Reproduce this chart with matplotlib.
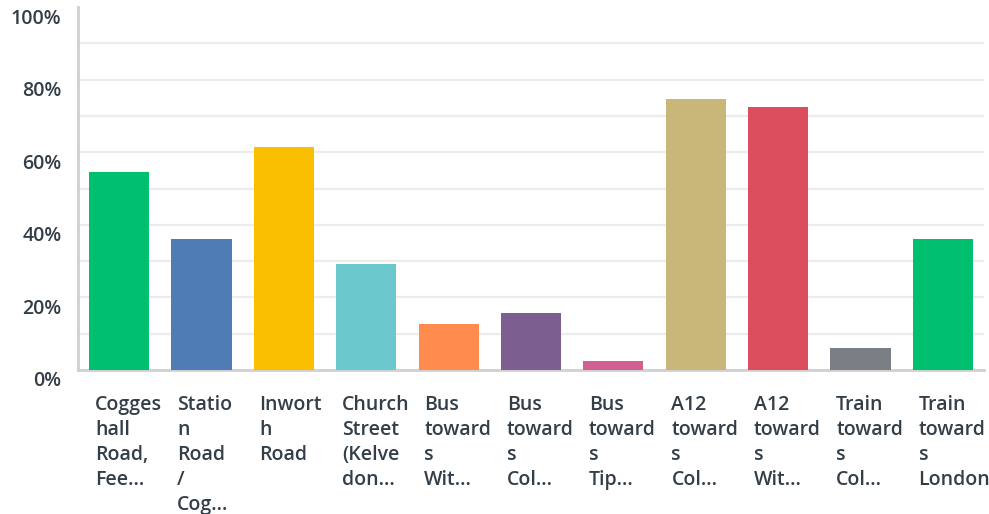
import numpy as np
import matplotlib.pyplot as plt
import matplotlib.transforms as mtransforms

# answer choices (as wrapped on the chart) and share of respondents (%)
labels = [
    "Cogges\nhall\nRoad,\nFee...",
    "Statio\nn\nRoad\n/\nCog...",
    "Inwort\nh\nRoad",
    "Church\nStreet\n(Kelve\ndon...",
    "Bus\ntoward\ns\nWit...",
    "Bus\ntoward\ns\nCol...",
    "Bus\ntoward\ns\nTip...",
    "A12\ntoward\ns\nCol...",
    "A12\ntoward\ns\nWit...",
    "Train\ntoward\ns\nCol...",
    "Train\ntoward\ns\nLondon",
]
values = [54.5, 36.1, 61.4, 29.2, 12.7, 15.7, 2.5, 74.7, 72.5, 6.1, 36.1]
colors = ["#00bf6f", "#507cb6", "#f9be00", "#6bc8cd", "#ff8b4f", "#7d5e90",
          "#d25f90", "#c9b77a", "#dc4e5d", "#7a7f86", "#00bf6f"]
yticks = [0, 20, 40, 60, 80, 100]

txt_color = "#333e48"
plt.rcParams['font.family'] = ['Open Sans', 'DejaVu Sans']

fig = plt.figure(figsize=(9.89, 5.14), dpi=100)
ax = fig.add_axes([78 / 989, 144 / 514, 906 / 989, 363 / 514])

x = np.arange(len(values))
bw = 0.73
ax.bar(x, values, width=bw, color=colors, zorder=3)

ax.set_xlim(-0.5, len(values) - 0.5)
ax.set_ylim(0, 100)

# light grid every 10%
for g in range(10, 100, 10):
    ax.axhline(g, color="#ececec", lw=1.6, zorder=1)

for s in ["top", "right"]:
    ax.spines[s].set_visible(False)
ax.spines["left"].set_color("#d0d0d0")
ax.spines["left"].set_linewidth(2)
ax.spines["bottom"].set_color("#d0d0d0")
ax.spines["bottom"].set_linewidth(2)

ax.set_xticks([])
ax.set_yticks(yticks)
ax.set_yticklabels([f"{t}%" for t in yticks], fontsize=14, fontweight="semibold",
                   color=txt_color)
ax.tick_params(axis="y", length=0, pad=12)
off = mtransforms.ScaledTranslation(0, -9 / 100, fig.dpi_scale_trans)
for lab in ax.get_yticklabels():
    lab.set_transform(lab.get_transform() + off)

# category labels under the bars, left aligned with the bar
trans = mtransforms.blended_transform_factory(ax.transData, ax.transAxes)
for i, lab in enumerate(labels):
    ax.text(i - bw / 2 + 0.07, -0.068, lab, transform=trans, ha="left", va="top",
            fontsize=14, fontweight="semibold", color=txt_color,
            linespacing=1.34, clip_on=False)

fig.savefig("out.png", dpi=100)
